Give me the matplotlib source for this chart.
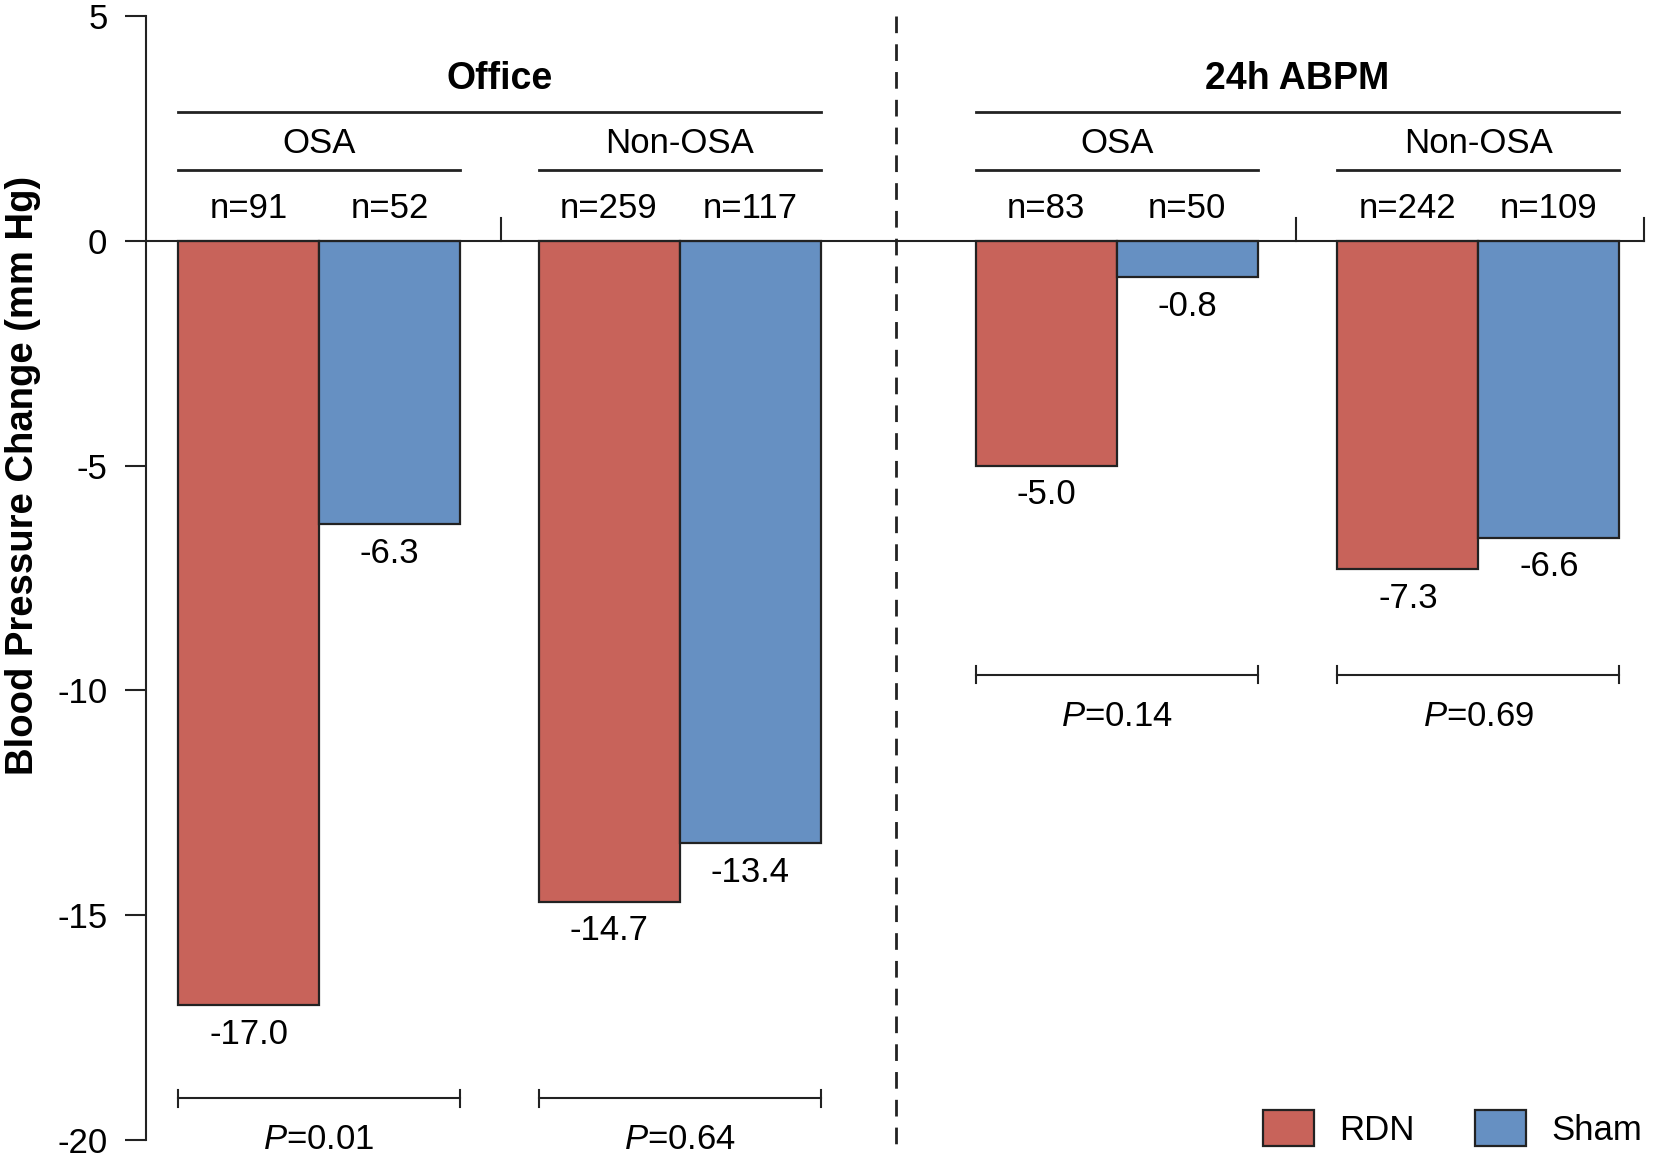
import matplotlib.pyplot as plt
from matplotlib.patches import Patch

plt.rcParams['font.family'] = ['Liberation Sans', 'DejaVu Sans']
plt.rcParams['mathtext.fontset'] = 'custom'
plt.rcParams['mathtext.rm'] = 'Liberation Sans'
plt.rcParams['mathtext.it'] = 'Liberation Sans:italic'
plt.rcParams['axes.unicode_minus'] = False

# data
measures = ['Office', '24h ABPM']
subgroups = ['OSA', 'Non-OSA', 'OSA', 'Non-OSA']
rdn = [-17.0, -14.7, -5.0, -7.3]
sham = [-6.3, -13.4, -0.8, -6.6]
n_rdn = [91, 259, 83, 242]
n_sham = [52, 117, 50, 109]
p_vals = ['0.01', '0.64', '0.14', '0.69']

red = '#C8635A'
blue = '#6690C2'
dark = '#222222'

# layout
group_left = [0.2255, 2.781, 5.881, 8.447]
bracket_y = [-19.08, -19.08, -9.65, -9.65]
w = 1.0
fs = 25

fig = plt.figure(figsize=(16.54, 11.62), dpi=100)
ax = fig.add_axes([0.0885, 0.0191, 0.9115, 0.9669])
ax.set_xlim(0, 10.692)
ax.set_ylim(-20, 5)

for i in range(4):
    x0 = group_left[i]
    ax.bar(x0 + w / 2, rdn[i], width=w, color=red, edgecolor=dark, linewidth=1.6)
    ax.bar(x0 + 1.5 * w, sham[i], width=w, color=blue, edgecolor=dark, linewidth=1.6)
    ax.text(x0 + w / 2, rdn[i] - 0.65, '%.1f' % rdn[i], ha='center', va='center', fontsize=fs)
    ax.text(x0 + 1.5 * w, sham[i] - 0.65, '%.1f' % sham[i], ha='center', va='center', fontsize=fs)
    ax.text(x0 + w / 2, 0.72, 'n=%d' % n_rdn[i], ha='center', va='center', fontsize=fs)
    ax.text(x0 + 1.5 * w, 0.72, 'n=%d' % n_sham[i], ha='center', va='center', fontsize=fs)
    # subgroup header
    ax.plot([x0, x0 + 2 * w], [1.58, 1.58], color=dark, lw=2)
    ax.text(x0 + w, 2.18, subgroups[i], ha='center', va='center', fontsize=fs)
    # p-value bracket
    by = bracket_y[i]
    ax.plot([x0, x0 + 2 * w], [by, by], color=dark, lw=1.5)
    ax.plot([x0, x0], [by - 0.19, by + 0.19], color=dark, lw=1.5)
    ax.plot([x0 + 2 * w, x0 + 2 * w], [by - 0.19, by + 0.19], color=dark, lw=1.5)
    ax.text(x0 + w, by - 0.92, '$P$=' + p_vals[i], ha='center', va='center', fontsize=fs)

# measure headers
for j, m in enumerate(measures):
    a = group_left[2 * j]
    b = group_left[2 * j + 1] + 2 * w
    ax.plot([a, b], [2.88, 2.88], color=dark, lw=2)
    ax.text((a + b) / 2, 3.6, m, ha='center', va='center', fontsize=27, fontweight='bold')

# baseline with upward ticks
ax.plot([0, 10.62], [0, 0], color=dark, lw=1.5)
for xt in [2.518, 8.152, 10.62]:
    ax.plot([xt, xt], [0, 0.52], color=dark, lw=1.5)

ax.plot([5.313, 5.313], [5, -20.1], color=dark, lw=2, linestyle=(0, (6, 4)), clip_on=False)

for s in ['top', 'right', 'bottom']:
    ax.spines[s].set_visible(False)
ax.spines['left'].set_linewidth(1.5)
ax.spines['left'].set_color(dark)
ax.set_xticks([])
ax.set_yticks([5, 0, -5, -10, -15, -20])
ax.tick_params(axis='y', length=15, width=1.5, color=dark, labelsize=25, pad=13)
ax.set_ylabel('Blood Pressure Change (mm Hg)', fontsize=27.5, fontweight='bold')
ax.yaxis.set_label_coords(-0.07, 0.591)
ax.patch.set_visible(False)

handles = [Patch(facecolor=red, edgecolor=dark, lw=1.6, label='RDN'),
           Patch(facecolor=blue, edgecolor=dark, lw=1.6, label='Sham')]
ax.legend(handles=handles, loc='lower right', bbox_to_anchor=(0.992, -0.006), ncol=2,
          frameon=False, fontsize=fs, handlelength=1.46, handleheight=1.22,
          handletextpad=0.73, columnspacing=1.74, borderpad=0, borderaxespad=0)

fig.savefig('out.png', dpi=100)
